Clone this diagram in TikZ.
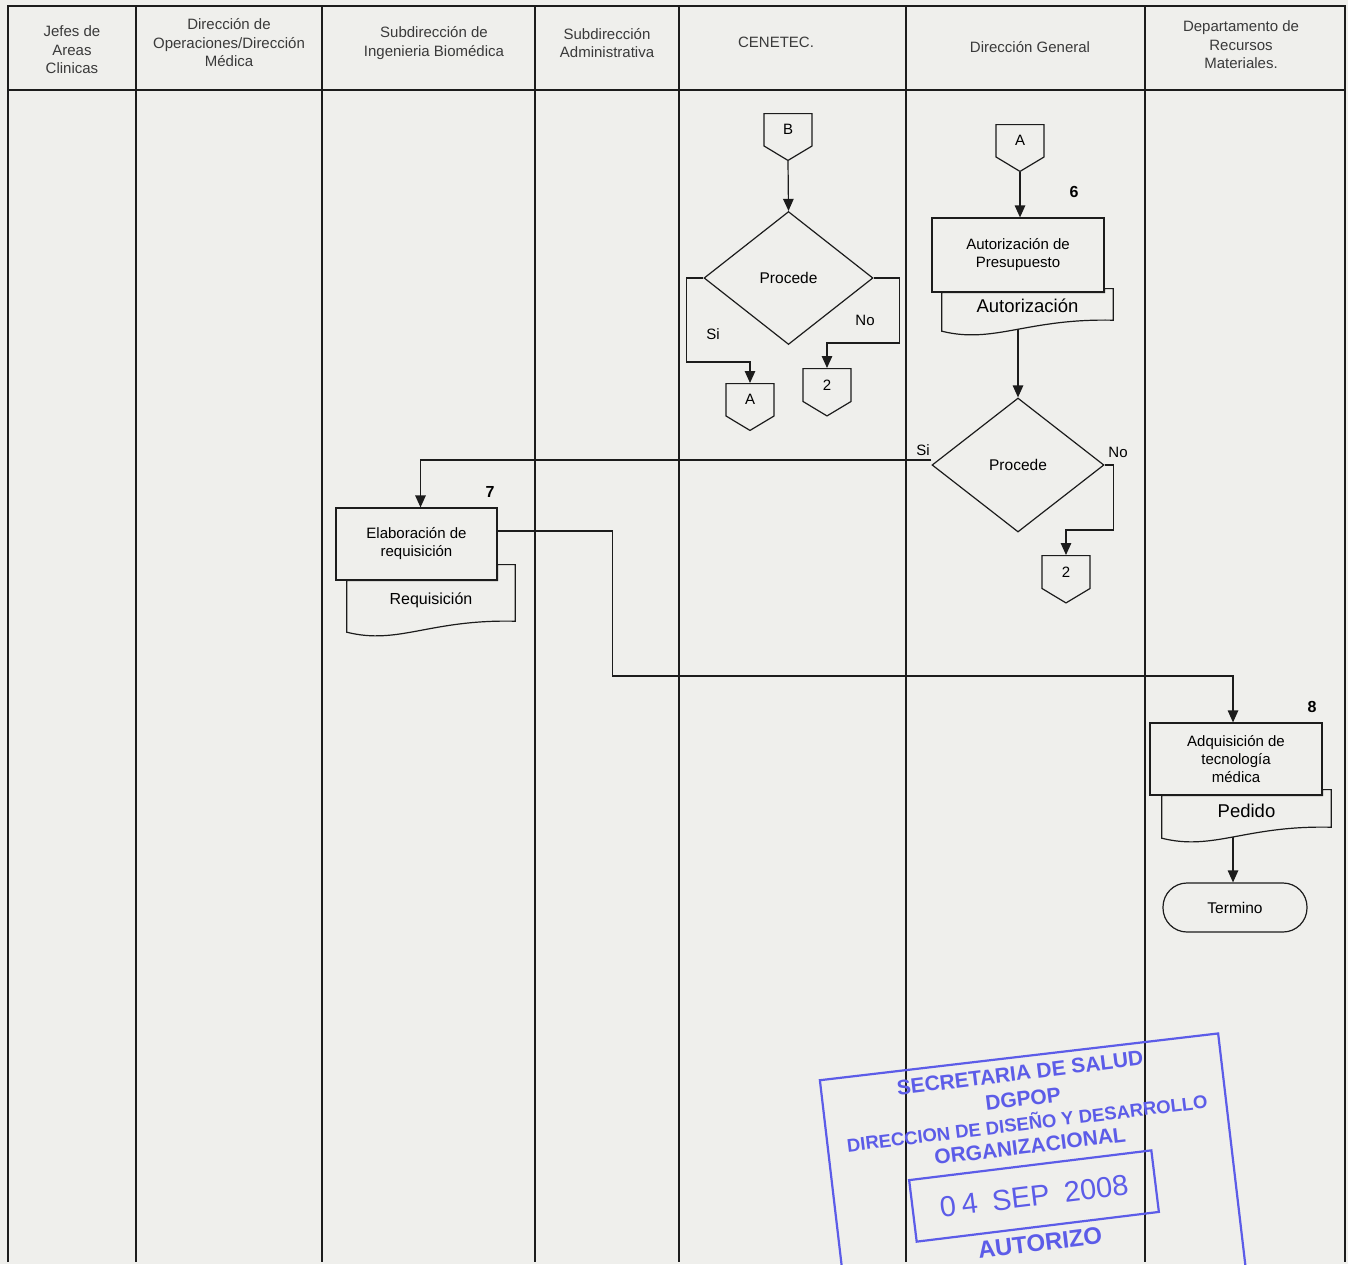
\documentclass[tikz,border=0pt]{standalone}
\usepackage{fontspec}
\setmainfont{Liberation Sans}
\usepackage{tikz}
\usetikzlibrary{arrows.meta,positioning,shapes.geometric,shapes.symbols,calc}
\definecolor{paper}{HTML}{EFEFEC}
\definecolor{ink}{HTML}{1C1C1C}
\definecolor{headink}{HTML}{3A3A3A}
\definecolor{stampblue}{HTML}{5C5CE8}

\newcommand{\docbig}{\fontsize{18.5}{20}\selectfont}
% document shape hanging below a process box
\newcommand{\docwave}[4]{%
  \draw[flow, fill=paper] (#1.west |- #2.south) -- ($(#1.south west)+(0,11)$)
    .. controls +(52,13) and +(-86,-2) .. (#1.south east)
    -- ($(#1.east |- #2.south)+(0,-#3)$) -- ($(#2.south east)+(0,-#3)$)
    -- (#2.south east) -- cycle;
  \node[doctext] (#1-txt) at (#1.center) {#4};}

\begin{document}
\begin{tikzpicture}[
  x=1pt, y=-1pt,
  flow/.style={draw=ink, line width=1.2pt},
  arr/.style={flow, -{Triangle[length=12pt,width=10.5pt]}},
  lane/.style={draw=ink, line width=1.3pt},
  head/.style={align=center, text=headink, font=\fontsize{15}{18.5}\selectfont},
  procbox/.style={
    rectangle, flow, fill=paper, align=center, inner sep=2pt,
    font=\fontsize{15}{18}\selectfont
  },
  decision/.style={
    diamond, flow, fill=paper, aspect=1.27, inner sep=0pt,
    font=\fontsize{15.5}{18}\selectfont
  },
  offpage/.style={
    signal, signal to=south, signal pointer angle=118, flow, fill=paper,
    minimum width=48pt, minimum height=36pt, inner sep=1pt,
    font=\fontsize{15}{18}\selectfont
  },
  terminal/.style={
    rectangle, rounded corners=24pt, flow, fill=paper,
    minimum width=144pt, minimum height=49pt,
    font=\fontsize{15.5}{18}\selectfont
  },
  docu/.style={rectangle, inner sep=0pt},
  doctext/.style={inner sep=0pt, font=\fontsize{16}{18}\selectfont},
  branch/.style={inner sep=0pt, font=\fontsize{15}{18}\selectfont},
  stepnum/.style={inner sep=0pt, font=\bfseries\fontsize{16}{18}\selectfont},
  stampframe/.style={draw=stampblue, line width=2.2pt},
  stamptxt/.style={text=stampblue, inner sep=0pt, font=\bfseries\fontsize{21}{23}\selectfont},
]
  \useasboundingbox (0,0) rectangle (1348,1264);
  \fill[paper] (0,0) rectangle (1348,1264);

  % Lanes
  \foreach \x in {136,322,535,679,906,1145}
    \draw[lane] (\x,6) -- (\x,1262);
  \draw[lane] (8,1262) -- (8,6) -- (1345,6) -- (1345,1262);
  \draw[lane] (8,90) -- (1345,90);

  % Headers
  \node[head] (h1) at (72,50) {Jefes de\\Areas\\Clinicas};
  \node[head] (h2) at (229,43) {Dirección de\\Operaciones/Dirección\\Médica};
  \node[head] (h3) at (434,43) {Subdirección de\\Ingenieria Biomédica};
  \node[head] (h4) at (607,43) {Subdirección\\Administrativa};
  \node[head] (h5) at (776,42) {CENETEC.};
  \node[head] (h6) at (1030,47) {Dirección General};
  \node[head] (h7) at (1241,45) {Departamento de\\Recursos\\Materiales.};

  % CENETEC
  \node[offpage, anchor=north] (conB) at (788,113) {B};
  \node[decision, minimum width=169pt, minimum height=133pt] (dec1) at (788.5,278) {Procede};
  \node[offpage, anchor=north] (conA1) at (750,383) {A};
  \node[offpage, anchor=north] (con2a) at (827,368) {2};

  % Direccion General
  \node[offpage, anchor=north] (conA2) at (1020,124) {A};
  \node[procbox, minimum width=172pt, minimum height=74pt] (box6) at (1018,255)
    {Autorización de\\Presupuesto};
  \node[docu, minimum width=171pt, minimum height=28pt] (doc6) at (1027.5,306) {};
  \node[decision, minimum width=172pt, minimum height=134pt] (dec2) at (1018,465) {Procede};
  \node[offpage, anchor=north] (con2b) at (1066,555) {2};

  % Subdireccion de Ingenieria
  \node[procbox, minimum width=161pt, minimum height=72pt] (box7) at (416.5,544)
    {Elaboración de\\requisición};
  \node[docu, minimum width=168pt, minimum height=41pt] (doc7) at (431,600.5) {};

  % Recursos Materiales
  \node[procbox, minimum width=172pt, minimum height=72pt] (box8) at (1236,759)
    {Adquisición de\\tecnología\\médica};
  \node[docu, minimum width=169pt, minimum height=32pt] (doc8) at (1246.5,811) {};
  \node[terminal] (fin) at (1235,907.5) {Termino};

  % Arrows
  \draw[arr] (conB.south) -- (dec1.north);
  \draw[arr] (dec1.west) -| ++(-17,84) -| (conA1.north);
  \draw[arr] (dec1.east) -| ++(26,65) -| (con2a.north);
  \draw[arr] (conA2.south) -- (conA2.south |- box6.north);
  \draw[arr] (box6.south) -- (dec2.north);
  \draw[arr] ([yshift=5pt]dec2.west) -| ([xshift=4pt]box7.north);
  \draw[arr] (dec2.east) -| ++(9,65) -| (con2b.north);
  \draw[arr] ([yshift=13pt]box7.east) -| ++(115,145) -| ([xshift=-3pt]box8.north);
  \draw[arr] ([xshift=-3pt]box8.south) -- ([xshift=-2pt]fin.north);

  % Documents
  \docwave{doc6}{box6}{4}{\docbig Autorización}
  \docwave{doc7}{box7}{16}{Requisición}
  \docwave{doc8}{box8}{6}{\docbig Pedido}

  % Branch labels and step numbers
  \node[branch] (si1) at (713,334) {Si};
  \node[branch] (no1) at (865,320) {No};
  \node[branch] (si2) at (923,450) {Si};
  \node[branch] (no2) at (1118,452) {No};
  \node[stepnum] (n6) at (1074,192) {6};
  \node[stepnum] (n7) at (490,492) {7};
  \node[stepnum] (n8) at (1312,707) {8};

  % Stamp
  \node[stampframe, minimum width=401pt, minimum height=240pt, rotate=6.7] (stamp) at (1033,1176) {};
  \node[stampframe, minimum width=244pt, minimum height=62pt, rotate=7,
    text=stampblue, font=\fontsize{29}{30}\selectfont] (datebox) at (1034,1196)
    {0\hspace{0.2em}4\hspace{0.5em}SEP\hspace{0.5em}2008};
  \node[stamptxt, rotate=7] (st1) at (1020,1073) {SECRETARIA DE SALUD};
  \node[stamptxt, rotate=7] (st2) at (1023,1099) {DGPOP};
  \node[stamptxt, rotate=7, font=\bfseries\fontsize{18.5}{20}\selectfont] (st3) at (1027,1122)
    {DIRECCION DE DISEÑO Y DESARROLLO};
  \node[stamptxt, rotate=7] (st4) at (1030,1146) {ORGANIZACIONAL};
  \node[stamptxt, rotate=7, font=\bfseries\fontsize{24}{26}\selectfont] (st5) at (1040,1243) {AUTORIZO};
\end{tikzpicture}
\end{document}
